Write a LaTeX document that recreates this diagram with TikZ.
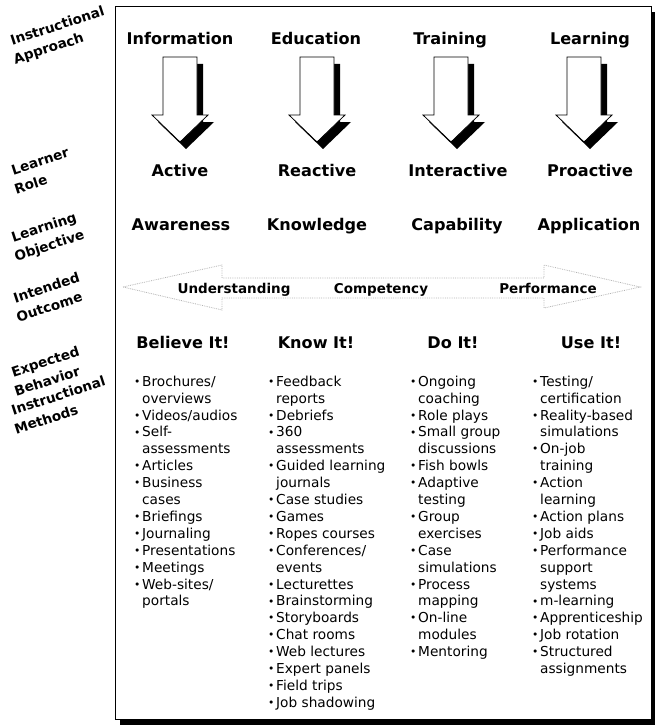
\documentclass[tikz,border=0pt]{standalone}
\usepackage{fontspec}
\setmainfont{DejaVu Sans}
\usepackage{graphicx}
\newcommand\bul{\makebox[8pt][l]{\raisebox{0.12ex}{\scalebox{0.78}{•}}}}
\newcommand\cnt{\hspace*{8pt}}
% white block arrow pointing down, with a black drop shadow
\newcommand\dnarrow[1]{%
  \begin{scope}[shift={(#1,0)}]
    \fill[black] (-11,64) -- (23,64) -- (23,122) -- (34,122) -- (6,149) -- (-22,122) -- (-11,122) -- cycle;
    \draw[barrow] (-17,57) -- (17,57) -- (17,115) -- (28,115) -- (0,142) -- (-28,115) -- (-17,115) -- cycle;
  \end{scope}}
\begin{document}
\begin{tikzpicture}[x=1pt,y=-1pt,
  head/.style={font=\fontsize{16.1}{18}\selectfont\bfseries, anchor=base, inner sep=0},
  outc/.style={font=\fontsize{13.5}{16}\selectfont\bfseries, anchor=base, inner sep=0},
  side/.style={font=\fontsize{13.6}{19}\selectfont\bfseries, rotate=18, align=left, anchor=north west, inner sep=0},
  list/.style={font=\fontsize{13.7}{16.9}\selectfont, align=left, anchor=north west, inner sep=0},
  barrow/.style={draw=black, line width=0.8pt, fill=white},
  band/.style={draw=gray!60, densely dotted, line width=0.8pt}
]
\useasboundingbox (0,0) rectangle (655,725);

% frame with drop shadow
\fill[black] (120,719) rectangle (655,725);
\fill[black] (651,12) rectangle (655,725);
\draw[line width=1pt] (115,719) -- (115,7) -- (651,7) -- (651,719) -- cycle;

% row labels on the left
\node[side] (lApproach) at (7.9,32.4) {\strut Instructional\\\hspace*{-3pt}Approach};
\node[side] (lRole) at (8.9,162.4) {\strut Learner\\\hspace*{-3pt}Role};
\node[side] (lObjective) at (8.9,229.4) {\strut Learning\\\hspace*{-3pt}Objective};
\node[side] (lOutcome) at (10.9,290.4) {\strut Intended\\\hspace*{-3pt}Outcome};
\node[side] (lBehavior) at (8.9,364.4) {\strut Expected\\\hspace*{-3pt}Behavior};
\node[side] (lMethods) at (8.9,402.4) {\strut Instructional\\\hspace*{-3pt}Methods};

% instructional approaches
\node[head] (hInfo) at (180,45) {Information};
\node[head] (hEdu) at (316,45) {Education};
\node[head] (hTrain) at (450,45) {Training};
\node[head] (hLearn) at (590,45) {Learning};

\dnarrow{180}
\dnarrow{317}
\dnarrow{451}
\dnarrow{584}

% learner roles
\node[head] (rAct) at (180,176) {Active};
\node[head] (rReact) at (317,176) {Reactive};
\node[head] (rInter) at (458,176) {Interactive};
\node[head] (rPro) at (590,176) {Proactive};

% learning objectives
\node[head] (oAware) at (181,230) {Awareness};
\node[head] (oKnow) at (317,230) {Knowledge};
\node[head] (oCap) at (457,230) {Capability};
\node[head] (oApp) at (589,230) {Application};

% intended outcome band
\draw[band] (123,287) -- (222,265) -- (222,278) -- (544,278) -- (544,265) -- (640,287)
  -- (544,308) -- (544,298) -- (222,298) -- (222,310) -- cycle;
\node[outc] (uUnder) at (234,293) {Understanding};
\node[outc] (uComp) at (381,293) {Competency};
\node[outc] (uPerf) at (548,293) {Performance};

% expected behaviors
\node[head] (bBelieve) at (183,348) {Believe It!};
\node[head] (bKnow) at (316,348) {Know It!};
\node[head] (bDo) at (453,348) {Do It!};
\node[head] (bUse) at (591,348) {Use It!};

% instructional methods
\node[list] (mBelieve) at (134,374.2) {\strut\bul Brochures/\\\cnt overviews\\\bul Videos/audios\\\bul Self-\\\cnt assessments\\\bul Articles\\\bul Business\\\cnt cases\\\bul Briefings\\\bul Journaling\\\bul Presentations\\\bul Meetings\\\bul Web-sites/\\\cnt portals};
\node[list] (mKnow) at (268,374.2) {\strut\bul Feedback\\\cnt reports\\\bul Debriefs\\\bul 360\\\cnt assessments\\\bul Guided learning\\\cnt journals\\\bul Case studies\\\bul Games\\\bul Ropes courses\\\bul Conferences/\\\cnt events\\\bul Lecturettes\\\bul Brainstorming\\\bul Storyboards\\\bul Chat rooms\\\bul Web lectures\\\bul Expert panels\\\bul Field trips\\\bul Job shadowing};
\node[list] (mDo) at (410,374.2) {\strut\bul Ongoing\\\cnt coaching\\\bul Role plays\\\bul Small group\\\cnt discussions\\\bul Fish bowls\\\bul Adaptive\\\cnt testing\\\bul Group\\\cnt exercises\\\bul Case\\\cnt simulations\\\bul Process\\\cnt mapping\\\bul On-line\\\cnt modules\\\bul Mentoring};
\node[list] (mUse) at (532,374.2) {\strut\bul Testing/\\\cnt certification\\\bul Reality-based\\\cnt simulations\\\bul On-job\\\cnt training\\\bul Action\\\cnt learning\\\bul Action plans\\\bul Job aids\\\bul Performance\\\cnt support\\\cnt systems\\\bul m-learning\\\bul Apprenticeship\\\bul Job rotation\\\bul Structured\\\cnt assignments};
\end{tikzpicture}
\end{document}
